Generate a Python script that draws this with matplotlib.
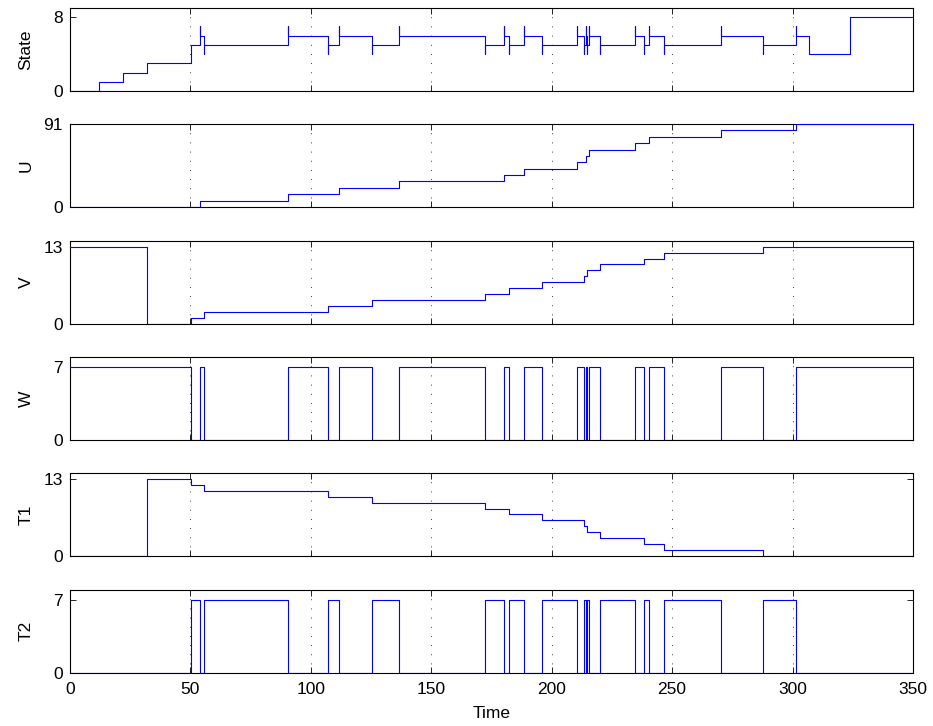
import matplotlib
matplotlib.use('Agg')
import matplotlib.pyplot as plt

plt.rcParams['font.family'] = ['Liberation Sans', 'DejaVu Sans']
plt.rcParams['font.size'] = 12.5

# event times / values (steps, held until next event)
state_t = [0, 12, 22, 32, 50.5,
           54.25, 54.25, 55.9, 55.9, 90.5, 90.5, 107.0, 107.0,
           111.8, 111.8, 125.5, 125.5, 136.5, 136.5, 172.2, 172.2,
           180.2, 180.2, 182.4, 182.4, 188.6, 188.6, 195.9, 195.9,
           210.5, 210.5, 213.6, 213.6, 214.1, 214.1, 214.7, 214.7,
           215.4, 215.4, 219.9, 219.9, 234.5, 234.5, 238.4, 238.4,
           240.4, 240.4, 246.5, 246.5, 270.1, 270.1, 287.8, 287.8,
           301.3, 301.3, 306.7, 323.8, 350]
state_v = [0, 1, 2, 3, 5,
           7, 6, 4, 5, 7, 6, 4, 5,
           7, 6, 4, 5, 7, 6, 4, 5,
           7, 6, 4, 5, 7, 6, 4, 5,
           7, 6, 4, 5, 7, 6, 4, 5,
           7, 6, 4, 5, 7, 6, 4, 5,
           7, 6, 4, 5, 7, 6, 4, 5,
           7, 6, 4, 8, 8]

u_t = [0, 54.25, 90.5, 111.8, 136.5, 180.2, 188.6, 210.5, 214.1,
       215.4, 234.5, 240.4, 270.1, 301.3, 350]
u_v = [0, 7, 14, 21, 28, 35, 42, 49, 56, 63, 70, 77, 84, 91, 91]

v_t = [0, 32, 50.5, 55.9, 107.0, 125.5, 172.2, 182.4, 195.9, 213.6,
       214.7, 219.9, 238.4, 246.5, 287.8, 350]
v_v = [13, 0, 1, 2, 3, 4, 5, 6, 7, 8, 9, 10, 11, 12, 13, 13]

w_t = [0, 50.5, 54.25, 55.9, 90.5, 107.0, 111.8, 125.5, 136.5, 172.2,
       180.2, 182.4, 188.6, 195.9, 210.5, 213.6, 214.1, 214.7, 215.4,
       219.9, 234.5, 238.4, 240.4, 246.5, 270.1, 287.8, 301.3, 350]
w_v = [7, 0, 7, 0, 7, 0, 7, 0, 7, 0,
       7, 0, 7, 0, 7, 0, 7, 0, 7,
       0, 7, 0, 7, 0, 7, 0, 7, 7]

t1_t = [0, 32, 50.5, 55.9, 107.0, 125.5, 172.2, 182.4, 195.9, 213.6,
        214.7, 219.9, 238.4, 246.5, 287.8, 350]
t1_v = [0, 13, 12, 11, 10, 9, 8, 7, 6, 5, 4, 3, 2, 1, 0, 0]

t2_t = [0, 50.5, 54.25, 55.9, 90.5, 107.0, 111.8, 125.5, 136.5, 172.2,
        180.2, 182.4, 188.6, 195.9, 210.5, 213.6, 214.1, 214.7, 215.4,
        219.9, 234.5, 238.4, 240.4, 246.5, 270.1, 287.8, 301.3, 350]
t2_v = [0, 7, 0, 7, 0, 7, 0, 7, 0, 7,
        0, 7, 0, 7, 0, 7, 0, 7, 0,
        7, 0, 7, 0, 7, 0, 7, 0, 0]

names = ['State', 'U', 'V', 'W', 'T1', 'T2']
series = [(state_t, state_v), (u_t, u_v), (v_t, v_v),
          (w_t, w_v), (t1_t, t1_v), (t2_t, t2_v)]
ytop = [8, 91, 13, 7, 13, 7]
ylims = [9, 91, 14, 8, 14, 8]
xticks = [0, 50, 100, 150, 200, 250, 300, 350]

fig = plt.figure(figsize=(9.33, 7.26), dpi=100)
bottoms = [0.8747, 0.7149, 0.5541, 0.3940, 0.2342, 0.0734]

for i, name in enumerate(names):
    ax = fig.add_axes([0.0747, bottoms[i], 0.9039, 0.1143])
    t, v = series[i]
    ax.plot(t, v, drawstyle='steps-post', color='#0000ff', lw=0.8, zorder=3)
    ax.set_xlim(0, 350)
    ax.set_ylim(0, ylims[i])
    ax.set_yticks([0, ytop[i]])
    ax.set_xticks(xticks)
    # matlab-style sparse dotted x grid
    for x in xticks[1:-1]:
        ax.axvline(x, color='black', lw=0.6, ls=(0, (1, 10)), zorder=1)
    ax.tick_params(direction='in', top=True, right=True, length=4,
                   width=0.6, pad=5)
    ax.tick_params(axis='x', pad=7)
    for s in ax.spines.values():
        s.set_linewidth(0.8)
    ax.set_ylabel(name)
    ax.yaxis.set_label_coords(-0.043, 0.5)
    if i < len(names) - 1:
        ax.set_xticklabels([])
    else:
        ax.set_xlabel('Time', labelpad=6)

plt.savefig('out.png', dpi=100)
